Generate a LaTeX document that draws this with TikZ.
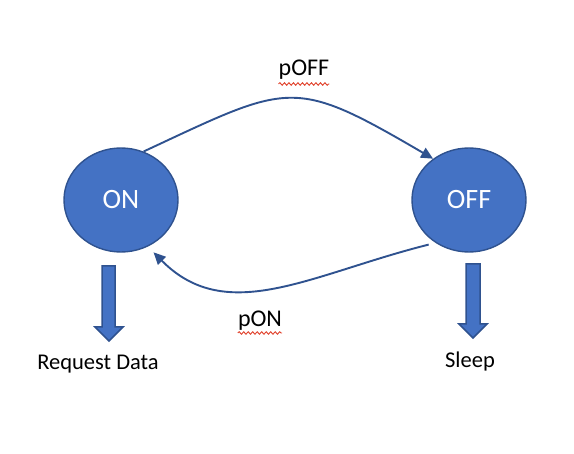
\documentclass[tikz,border=0pt]{standalone}
\usepackage{fontspec}
\setmainfont{Carlito}
\usetikzlibrary{shapes.geometric,arrows.meta,decorations.pathmorphing}
\definecolor{fillblue}{HTML}{4472C4}
\definecolor{edgeblue}{HTML}{2F528F}
\definecolor{spellred}{HTML}{E0402A}
\begin{document}
\begin{tikzpicture}[x=1pt,y=-1pt,
 state/.style={ellipse, draw=edgeblue, fill=fillblue, line width=1.4pt, minimum width=114pt, minimum height=104pt, inner sep=0pt, text=white, font=\fontsize{28}{32}\selectfont},
 trans/.style={draw=edgeblue, line width=1.9pt, -{Triangle[length=12pt,width=11pt]}},
 blockarrow/.style={draw=edgeblue, fill=fillblue, line width=1.5pt, line join=miter},
 lbl/.style={font=\fontsize{22.5}{26}\selectfont, inner sep=0pt},
 edgelbl/.style={font=\fontsize{24}{28}\selectfont, inner sep=0pt},
 squiggle/.style={draw=spellred, line width=0.9pt, decorate, decoration={snake, segment length=4.5pt, amplitude=1.3pt}}]
\useasboundingbox (0,0) rectangle (574,454);
\node[state] (on) at (121,200) {ON};
\node[state] (off) at (469,200) {OFF};
\draw[trans] (on.65) .. controls +(147,-68.5) and +(-141,-82.5) .. (off.131);
\draw[trans, shorten <=7pt, shorten >=8pt] (off.232) .. controls +(-124,31) and +(79,80) .. (on.300);
\draw[blockarrow] (102,266) -- (115,266) -- (115,327) -- (123,327) -- (109,341) -- (95,327) -- (102,327) -- cycle;
\draw[blockarrow] (466,264) -- (480,264) -- (480,324) -- (487,324) -- (473,338) -- (459,324) -- (466,324) -- cycle;
\node[lbl, anchor=base] (req) at (98,370) {Request Data};
\node[lbl, anchor=base] (sleep) at (470,368) {Sleep};
\node[edgelbl, anchor=base] (poff) at (304,76) {pOFF};
\node[edgelbl, anchor=base] (pon) at (260,327) {pON};
\draw[squiggle] ([yshift=-8pt]poff.base west) -- ([yshift=-8pt]poff.base east);
\draw[squiggle] ([yshift=-6pt]pon.base west) -- ([yshift=-6pt]pon.base east);
\end{tikzpicture}
\end{document}
